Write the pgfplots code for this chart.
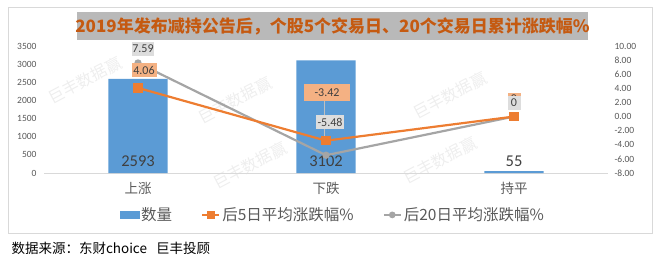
\documentclass[border=0pt]{standalone}
\usepackage{fontspec}
\usepackage{pgfplots}
\pgfplotsset{compat=1.18}
\usepackage{pgfplotstable}
\setmainfont{Carlito}
\newfontfamily\cjk{Noto Sans CJK SC}

\definecolor{barblue}{HTML}{5B9BD5}
\definecolor{lineorange}{HTML}{ED7D31}
\definecolor{linegray}{HTML}{A5A5A5}
\definecolor{boxorange}{HTML}{F4B183}
\definecolor{boxgray}{HTML}{DDDDDD}
\definecolor{titlebg}{HTML}{B9B9B9}
\definecolor{titletext}{HTML}{C55A11}
\definecolor{ticktext}{HTML}{595959}
\definecolor{labeltext}{HTML}{404040}
\definecolor{framegray}{HTML}{D9D9D9}
\definecolor{wmark}{HTML}{EEEEEE}

% number of stocks per category; ly = height of the value label inside the bar
\pgfplotstableread{
x n ly
0 2593 330
1 3102 330
2 55 330
}\counts

% average change after 5 trading days; dx/dy = label offset, w/h = label box size (bp)
\pgfplotstableread{
x y dx dy w h
0 4.06 6 17.5 25 14
1 -3.42 1 48 46 17
2 0 0 18 13 12
}\fiveday

% average change after 20 trading days
\pgfplotstableread{
x y dx dy w h
0 7.59 5 14.5 22 14
1 -5.48 4 33 28 14
2 0 0 14 13 14
}\twentyday

\pgfplotsset{
  common/.style={
    at={(44bp,92bp)}, anchor=south west,
    scale only axis, width=564bp, height=127bp,
    xmin=-0.5, xmax=2.5,
    major tick length=0pt,
    /pgf/number format/assume math mode=true,
    /pgf/number format/1000 sep={},
    ticklabel style={font=\fontsize{9.5bp}{11bp}\selectfont, text=ticktext},
    clip=false,
  },
  datalabel/.style={
    draw=none, mark=none, forget plot,
    nodes near coords, point meta=explicit symbolic,
    visualization depends on={\thisrow{dx}\as\dx},
    visualization depends on={\thisrow{dy}\as\dy},
    visualization depends on={\thisrow{w}\as\bw},
    visualization depends on={\thisrow{h}\as\bh},
    every node near coord/.append style={
      anchor=center, xshift=\dx bp, yshift=\dy bp,
      font=\fontsize{12bp}{13bp}\selectfont, text=labeltext,
      inner sep=0pt, minimum width=\bw bp, minimum height=\bh bp, #1},
  },
}

\begin{document}
\begin{tikzpicture}[x=1bp,y=1bp]
\useasboundingbox (0,0) rectangle (660,265);

% outer frame and title band
\draw[framegray, line width=0.8bp] (8,32) rectangle (652,258);
\fill[titlebg] (77,225) rectangle (588,253);
\node[text=titletext, font=\cjk\bfseries\fontsize{17bp}{20bp}\selectfont]
  at (332.5,239) {2019年发布减持公告后，个股5个交易日、20个交易日累计涨跌幅\%};

% watermark
\foreach \px/\py in {85/80, 235/100, 250/165, 450/95, 440/160} {
  \node[text=wmark, rotate=28, font=\cjk\fontsize{16bp}{18bp}\selectfont]
    at (\px, 265-\py) {巨丰数据赢};
}

% left axis: counts
\begin{axis}[common,
  ymin=0, ymax=3500, ytick={0,500,...,3500},
  axis x line*=bottom, axis y line*=left,
  y axis line style={draw=none},
  x axis line style={draw=framegray, line width=0.8bp},
  xtick={0,1,2}, xticklabels={上涨,下跌,持平},
  xticklabel style={font=\cjk\fontsize{13.5bp}{15bp}\selectfont, text=ticktext, yshift=-6bp},
  yticklabel style={xshift=-4bp},
]
\addplot[ybar, bar width=0.314, fill=barblue, draw=none] table[x=x, y=n] {\counts};
\addplot[draw=none, mark=none, nodes near coords, point meta=explicit symbolic,
  every node near coord/.append style={anchor=center,
    font=\fontsize{16.5bp}{18bp}\selectfont, text=labeltext}]
  table[x=x, y=ly, meta=n] {\counts};
\end{axis}

% right axis: percentage change
\begin{axis}[common,
  ymin=-8, ymax=10, ytick={-8,-6,...,10},
  axis y line*=right, axis x line=none,
  y axis line style={draw=none},
  yticklabel style={xshift=3bp, /pgf/number format/.cd, fixed, fixed zerofill, precision=2},
  legend style={at={(0.512,-0.33)}, anchor=center, draw=none, fill=none,
    font=\cjk\fontsize{15.5bp}{17bp}\selectfont, text=ticktext,
    legend columns=3,
    /tikz/every even column/.append style={column sep=27bp}},
  legend cell align=left,
]
\addlegendimage{legend image code/.code={\fill[barblue] (0bp,-3.5bp) rectangle (19bp,3.5bp);}}
\addlegendentry{数量}
\addlegendimage{color=lineorange, line width=2.2bp, mark=square*, mark size=3bp}
\addlegendentry{后5日平均涨跌幅\%}
\addlegendimage{color=linegray, line width=2.2bp, mark=*, mark size=2.2bp}
\addlegendentry{后20日平均涨跌幅\%}

\addplot[forget plot, color=linegray, line width=2.2bp, mark=*, mark size=2.5bp]
  table[x=x, y=y] {\twentyday};
\addplot[forget plot, color=lineorange, line width=2.2bp, mark=square*, mark size=3.5bp]
  table[x=x, y=y] {\fiveday};

% leader line of the -3.42 label
\draw[linegray!70, line width=0.5bp] (axis cs:0.99,-3.42) -- (axis cs:0.99,2.2);

\addplot[datalabel={fill=boxorange}] table[x=x, y=y, meta=y] {\fiveday};
\addplot[datalabel={fill=boxgray}] table[x=x, y=y, meta=y] {\twentyday};
\end{axis}

% source line
\node[anchor=west, font=\cjk\fontsize{13.5bp}{15bp}\selectfont] at (8,17) {数据来源：东财choice\ \ \ 巨丰投顾};
\end{tikzpicture}
\end{document}
